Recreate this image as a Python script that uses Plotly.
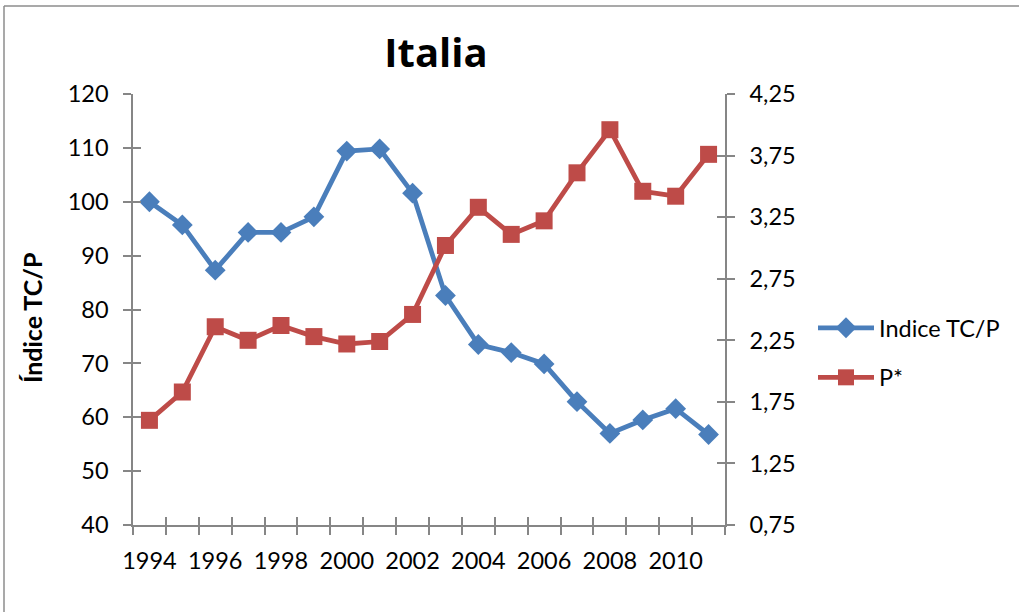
import plotly.graph_objects as go

years = list(range(1994, 2012))
indice_tcp = [100.0, 95.7, 87.3, 94.3, 94.3, 97.2, 109.4, 109.8, 101.6, 82.6,
              73.5, 72.0, 69.9, 62.9, 57.0, 59.5, 61.6, 56.8]
p_star = [1.60, 1.83, 2.36, 2.25, 2.37, 2.28, 2.22, 2.24, 2.46, 3.02,
          3.33, 3.11, 3.22, 3.61, 3.96, 3.46, 3.42, 3.76]
x_tickvals = [1994, 1996, 1998, 2000, 2002, 2004, 2006, 2008, 2010]
x_ticktext = [str(y) for y in x_tickvals]
left_ticks = [40, 50, 60, 70, 80, 90, 100, 110, 120]
right_ticks = [0.75, 1.25, 1.75, 2.25, 2.75, 3.25, 3.75, 4.25]
right_ticktext = ["0,75", "1,25", "1,75", "2,25", "2,75", "3,25", "3,75", "4,25"]

BLUE = "#4A7EBB"
RED = "#BE4B48"
AX = "#868686"
FONT = "Lato"

W, H = 1019, 612
L, R, T, B = 133, 725, 94, 525
XR = [years[0] - 0.5, years[-1] + 0.5]
TL = 8

fig = go.Figure()
fig.add_trace(go.Scatter(
    x=years, y=indice_tcp, name="Indice TC/P", mode="lines+markers",
    line=dict(color=BLUE, width=4.8),
    marker=dict(symbol="diamond", size=16, color=BLUE),
    legendgroup="a", xaxis="x", yaxis="y"))
fig.add_trace(go.Scatter(
    x=years, y=p_star, name="P*", mode="lines+markers",
    line=dict(color=RED, width=4.8),
    marker=dict(symbol="square", size=17, color=RED),
    legendgroup="b", xaxis="x", yaxis="y2"))
# empty helper traces so the overlay (inside-tick) axes are drawn
fig.add_trace(go.Scatter(x=[], y=[], xaxis="x2", yaxis="y3",
                         showlegend=False, hoverinfo="skip"))
fig.add_trace(go.Scatter(x=[], y=[], xaxis="x2", yaxis="y4",
                         showlegend=False, hoverinfo="skip"))

tickfont = dict(family=FONT, size=23.5, color="#000000")
boundaries = [y - 0.5 for y in years] + [years[-1] + 0.5]

fig.update_layout(
    width=W, height=H,
    margin=dict(l=L, r=W - R, t=T, b=H - B),
    paper_bgcolor="white", plot_bgcolor="white",
    font=dict(family=FONT, color="#000000"),
    title=dict(text="<b>Italia</b>", x=436 / W, xanchor="center",
               y=1 - 53 / H, yanchor="middle", yref="container",
               font=dict(family="Open Sans", size=40, color="#000000")),
    xaxis=dict(range=XR, tickmode="array", tickvals=x_tickvals,
               ticktext=x_ticktext, tickangle=0, ticks="",
               ticklabelstandoff=14,
               minor=dict(tickmode="array", tickvals=boundaries,
                          ticks="outside", ticklen=TL, tickcolor=AX,
                          tickwidth=1.5, showgrid=False),
               showline=True, linecolor=AX, linewidth=1.5,
               showgrid=False, zeroline=False, tickfont=tickfont),
    xaxis2=dict(overlaying="x", anchor="y", side="bottom", range=XR,
                tickmode="array", tickvals=boundaries,
                showticklabels=False, ticks="inside", ticklen=TL,
                tickcolor=AX, tickwidth=1.5, showline=False,
                showgrid=False, zeroline=False),
    yaxis=dict(range=[40, 120], tickvals=left_ticks, ticks="outside",
               ticklen=TL, tickcolor=AX, tickwidth=1.5,
               ticklabelstandoff=10,
               showline=True, linecolor=AX, linewidth=1.5,
               showgrid=False, zeroline=False, tickfont=tickfont),
    yaxis2=dict(range=[0.75, 4.25], tickvals=right_ticks,
                ticktext=right_ticktext, overlaying="y", side="right",
                anchor="x", ticks="outside", ticklen=TL, tickcolor=AX,
                tickwidth=1.5, ticklabelstandoff=10,
                showline=True, linecolor=AX, linewidth=1.5,
                showgrid=False, zeroline=False, tickfont=tickfont),
    yaxis3=dict(range=[40, 120], tickvals=left_ticks, overlaying="y",
                side="left", anchor="x2", ticks="inside", ticklen=TL,
                tickcolor=AX, tickwidth=1.5, showticklabels=False,
                showline=False, showgrid=False, zeroline=False),
    yaxis4=dict(range=[0.75, 4.25], tickvals=right_ticks, overlaying="y",
                side="right", anchor="x2", ticks="inside", ticklen=TL,
                tickcolor=AX, tickwidth=1.5, showticklabels=False,
                showline=False, showgrid=False, zeroline=False),
    legend=dict(x=(813 - L) / (R - L), xanchor="left",
                y=(B - 306) / (B - T), yanchor="top",
                font=dict(family=FONT, size=23.5, color="#000000"),
                itemwidth=56, tracegroupgap=16, bgcolor="rgba(0,0,0,0)"),
    showlegend=True,
)

fig.add_annotation(text="<b>Índice TC/P</b>", textangle=-90,
                   xref="paper", yref="paper",
                   x=(32 - L) / (R - L), y=(B - 318) / (B - T),
                   xanchor="center", yanchor="middle", showarrow=False,
                   font=dict(family=FONT, size=25, color="#000000"))

# outer chart border (top and left edges visible)
px = lambda v: (v - L) / (R - L)
py = lambda v: (B - v) / (B - T)
fig.add_shape(type="line", xref="paper", yref="paper",
              x0=px(4), x1=px(W + 5), y0=py(6), y1=py(6),
              line=dict(color="#8C8C8C", width=1.5))
fig.add_shape(type="line", xref="paper", yref="paper",
              x0=px(4), x1=px(4), y0=py(6), y1=py(H + 5),
              line=dict(color="#8C8C8C", width=1.5))

fig.write_html("out.html", config={"displayModeBar": False},
               post_script="document.body.style.margin='0';"
                           "document.body.style.overflow='hidden';")
